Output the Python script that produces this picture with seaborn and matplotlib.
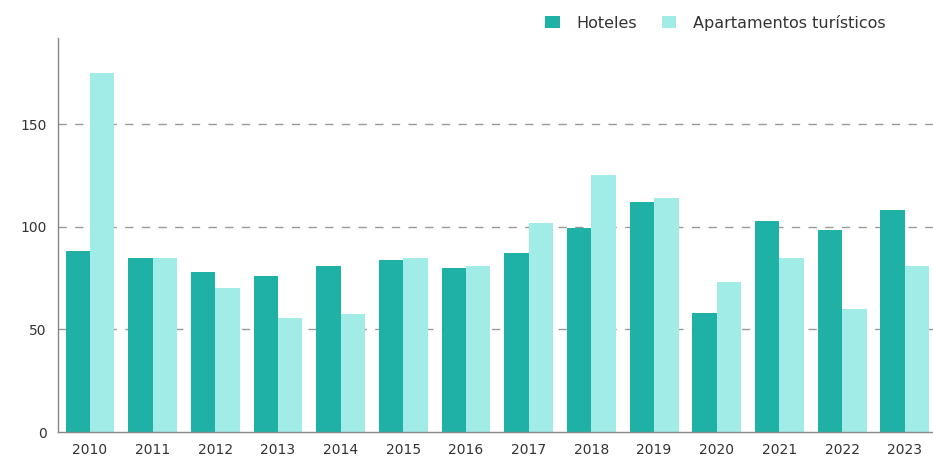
import matplotlib
matplotlib.use("Agg")
import matplotlib.pyplot as plt
import seaborn as sns
import pandas as pd
from matplotlib.patches import Patch

years = ["2010", "2011", "2012", "2013", "2014", "2015", "2016",
         "2017", "2018", "2019", "2020", "2021", "2022", "2023"]
hoteles = [88, 85, 78, 76, 81, 84, 80, 87, 99.5, 112, 58, 103, 98.5, 108]
apartamentos = [175, 85, 70, 55.5, 57.5, 85, 81, 102, 125, 114, 73, 85, 60, 81]
series_names = ["Hoteles", "Apartamentos turísticos"]
colors = ["#1fb1a5", "#a2ece8"]

df = pd.DataFrame({
    "year": years * 2,
    "value": hoteles + apartamentos,
    "serie": [series_names[0]] * len(years) + [series_names[1]] * len(years),
})

sns.set_style("white")
plt.rcParams["font.family"] = ["DejaVu Sans"]

fig = plt.figure(figsize=(9.33, 4.68), dpi=100)
ax = fig.add_axes([58 / 933, 1 - 432 / 468, (933 - 58) / 933, (432 - 38) / 468])

sns.barplot(data=df, x="year", y="value", hue="serie", palette=colors,
            width=0.78, gap=0, ax=ax, legend=False, saturation=1,
            linewidth=0, edgecolor="none")

ax.set_xlim(-0.51, 13.45)
ax.set_ylim(0, 192)
ax.set_yticks([0, 50, 100, 150])
ax.set_xlabel("")
ax.set_ylabel("")
for y in [50, 100, 150]:
    ax.axhline(y, color="#999999", linestyle=(0, (6, 6)), linewidth=1, zorder=0)
ax.set_axisbelow(True)

for s in ["top", "right"]:
    ax.spines[s].set_visible(False)
for s in ["left", "bottom"]:
    ax.spines[s].set_color("#888888")
    ax.spines[s].set_linewidth(1)
ax.tick_params(axis="both", length=5, width=1, color="#888888",
               labelsize=10, labelcolor="#333333", pad=3)

handles = [Patch(facecolor=c, edgecolor="none") for c in colors]
fig.legend(handles, series_names, loc="center right", bbox_to_anchor=(0.9645, 1 - 0.049),
           ncol=2, frameon=False, fontsize=11.5, handlelength=0.9, handleheight=0.8,
           columnspacing=1.55, handletextpad=1.05, labelcolor="#333333")

fig.savefig("out.png", dpi=100)
